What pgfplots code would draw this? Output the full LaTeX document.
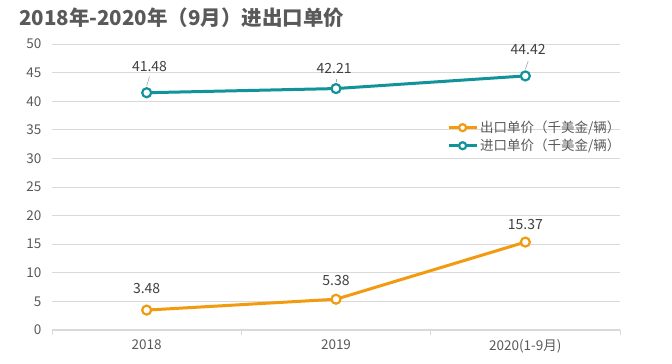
\documentclass[border=0pt]{standalone}
\usepackage{pgfplots}
\pgfplotsset{compat=1.18}
\usepackage{fontspec}
\setmainfont{Noto Sans CJK SC}
\definecolor{cOr}{HTML}{F29B11}
\definecolor{cTe}{HTML}{12939A}
\definecolor{txt}{HTML}{595959}
\definecolor{lab}{HTML}{404040}
\definecolor{grd}{HTML}{D9D9D9}
\begin{document}
\begin{tikzpicture}[x=1pt,y=1pt]
\path[use as bounding box] (0,0) rectangle (672,364);
\node[anchor=west, font=\fontsize{20.5}{21}\selectfont\bfseries, text=txt, inner sep=0pt] at (19,346) {2018年-2020年（9月）进出口单价};
\begin{axis}[
 at={(52pt,34pt)}, anchor=south west, scale only axis, width=568pt, height=286pt,
 xmin=0, xmax=3, ymin=0, ymax=50,
 ytick={0,5,...,50},
 xtick={0,1,2,3}, xticklabels={},
 x tick style={grd, line width=1pt}, major tick length=5pt, tick align=outside,
 extra x ticks={0.5,1.5,2.5}, extra x tick labels={2018,2019,2020(1-9月)},
 extra x tick style={major tick length=0pt, xticklabel style={yshift=-6pt}},
 axis x line*=bottom, axis y line*=left,
 x axis line style={grd, line width=1pt, -},
 y axis line style={draw=none},
 ytick style={draw=none},
 ymajorgrids, grid style={grd, line width=0.8pt},
 tick label style={font=\fontsize{13.5}{13.5}\selectfont, text=txt},
 yticklabel style={xshift=-2pt},
 /pgf/number format/assume math mode=true,
 clip=false,
 legend style={at={(0.69,0.745)}, anchor=north west, draw=none, fill=none,
   font=\fontsize{13.5}{13.5}\selectfont, text=txt, row sep=1pt},
 legend cell align=left,
 legend image code/.code={\draw[mark repeat=2,mark phase=2,#1,mark size=3.5pt] plot coordinates {(0pt,0pt)(14pt,0pt)(28pt,0pt)};},
]
\addplot[cOr, line width=3pt, mark=*, mark size=4.5pt, mark options={fill=white, draw=cOr, line width=2.2pt}]
 coordinates {(0.5,3.48)(1.5,5.38)(2.5,15.37)};
\addlegendentry{出口单价（千美金/辆）}
\addplot[cTe, line width=3pt, mark=*, mark size=4.5pt, mark options={fill=white, draw=cTe, line width=2.2pt}]
 coordinates {(0.5,41.48)(1.5,42.21)(2.5,44.42)};
\addlegendentry{进口单价（千美金/辆）}
\begin{scope}[every node/.style={font=\fontsize{14}{14}\selectfont, text=lab}]
\node at (axis cs:0.515,46.15) {41.48};
\node at (axis cs:1.49,45.8) {42.21};
\node at (axis cs:2.515,48.95) {44.42};
\node at (axis cs:0.5,7.2) {3.48};
\node at (axis cs:1.5,8.6) {5.38};
\node at (axis cs:2.5,18.5) {15.37};
\end{scope}
\draw[gray!70, line width=0.6pt] (axis cs:0.515,44.3) -- (axis cs:0.5,42.7);
\draw[gray!70, line width=0.6pt] (axis cs:1.5,43.9) -- (axis cs:1.5,43.3);
\draw[gray!70, line width=0.6pt] (axis cs:2.515,47.0) -- (axis cs:2.5,45.6);
\end{axis}
\end{tikzpicture}
\end{document}
